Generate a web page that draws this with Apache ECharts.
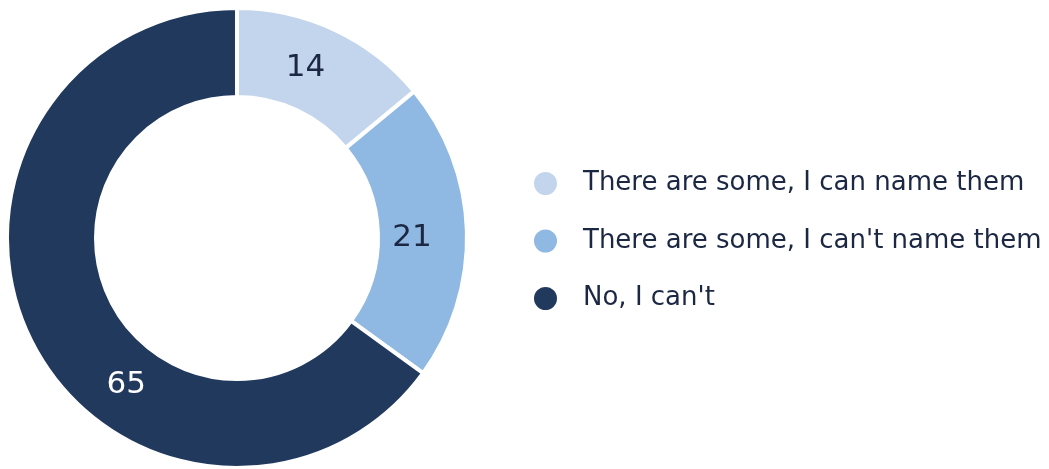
<!DOCTYPE html>
<html>
<head>
<meta charset="utf-8">
<script src="https://cdn.jsdelivr.net/npm/echarts@6/dist/echarts.min.js"></script>
<style>
  html, body { margin: 0; padding: 0; background: #ffffff; }
  #chart { width: 1049px; height: 469px; }
</style>
</head>
<body>
<div id="chart"></div>
<script>
// Answer categories and their shares (percent)
const categories = [
  'There are some, I can name them',
  "There are some, I can't name them",
  "No, I can't"
];
const values = [14, 21, 65];
const colors = ['#c3d5ec', '#8fb8e2', '#22395e'];
const labelColors = ['#1b2743', '#1b2743', '#ffffff'];

const FONT = '"DejaVu Sans", "Noto Sans", sans-serif';
const CX = 237, CY = 238;
// where each value label sits on the ring: angle clockwise from 12 o'clock, distance from centre
const labelAngles = [22, 90, 217];
const labelRadii = [183, 175, 184];

const chart = echarts.init(document.getElementById('chart'), null, { renderer: 'canvas' });

const seriesData = categories.map((name, i) => ({
  name,
  value: values[i],
  itemStyle: { color: colors[i] },
  label: { color: labelColors[i] }
}));

chart.setOption({
  animation: false,
  backgroundColor: '#ffffff',
  legend: {
    orient: 'vertical',
    left: 527,
    top: 165,
    icon: 'circle',
    itemWidth: 25,
    itemHeight: 25,
    itemGap: 30.5,
    selectedMode: false,
    textStyle: {
      fontFamily: FONT,
      fontSize: 26,
      color: '#1b2743',
      padding: [0, 0, 0, 20],
      lineHeight: 25
    },
    data: categories
  },
  series: [{
    type: 'pie',
    center: [CX, CY],
    radius: [141, 230],
    startAngle: 90,
    clockwise: true,
    silent: true,
    itemStyle: { borderColor: '#ffffff', borderWidth: 4 },
    label: {
      show: true,
      position: 'inside',
      formatter: '{c}',
      fontFamily: FONT,
      fontSize: 31
    },
    labelLine: { show: false },
    labelLayout: function (p) {
      const a = labelAngles[p.dataIndex] * Math.PI / 180;
      const r = labelRadii[p.dataIndex];
      return {
        x: CX + r * Math.sin(a),
        y: CY - r * Math.cos(a),
        align: 'center',
        verticalAlign: 'middle'
      };
    },
    data: seriesData
  }]
});
</script>
</body>
</html>
